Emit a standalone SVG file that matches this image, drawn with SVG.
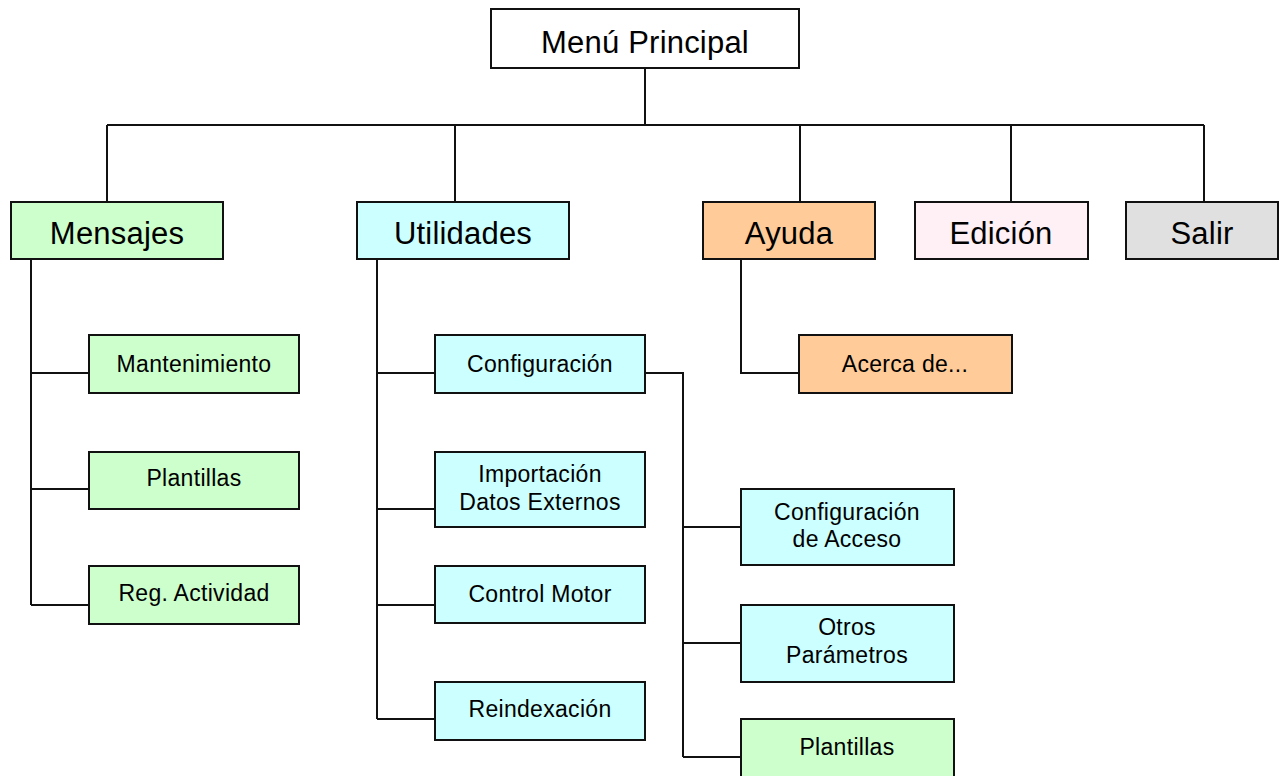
<svg xmlns="http://www.w3.org/2000/svg" width="1279" height="776" viewBox="0 0 1279 776">
<style>
rect{stroke:#111;stroke-width:2}
.w{fill:#fff}.g{fill:#ccffcc}.c{fill:#ccffff}.o{fill:#ffcc99}.p{fill:#fff0f6}.s{fill:#e0e0e0}
text{font-family:"Liberation Sans",Arial,sans-serif;fill:#000;text-anchor:middle}
.L{font-size:31px;letter-spacing:0.2px}
.S{font-size:23px;letter-spacing:0.3px}
#connectors path{fill:none;stroke:#111;stroke-width:2}
</style>
<rect width="1279" height="776" fill="#fff" style="stroke:none"/>
<g id="connectors">
<path d="M645 68V125M107 125H1204M107 125V202M455 125V202M800 125V202M1011 125V202M1204 125V202"/>
<path d="M31 259V605M31 373H89M31 489H89M31 605H89"/>
<path d="M377 259V719M377 373H435M377 509H435M377 605H435M377 719H435"/>
<path d="M645 373H683V757M683 527H741M683 643H741M683 757H741"/>
<path d="M741 259V373H799"/>
</g>
<g id="menu-principal"><rect class="w" x="491" y="9" width="308" height="59"/><text class="L" x="645" y="53">Menú Principal</text></g>
<g id="mensajes"><rect class="g" x="11" y="202" width="212" height="57"/><text class="L" x="117" y="244">Mensajes</text></g>
<g id="utilidades"><rect class="c" x="357" y="202" width="212" height="57"/><text class="L" x="463" y="244">Utilidades</text></g>
<g id="ayuda"><rect class="o" x="703" y="202" width="172" height="57"/><text class="L" x="789" y="244">Ayuda</text></g>
<g id="edicion"><rect class="p" x="915" y="202" width="173" height="57"/><text class="L" x="1001" y="244">Edición</text></g>
<g id="salir"><rect class="s" x="1126" y="202" width="152" height="57"/><text class="L" x="1202" y="244">Salir</text></g>
<g id="mantenimiento"><rect class="g" x="89" y="335" width="210" height="58"/><text class="S" x="194" y="372">Mantenimiento</text></g>
<g id="plantillas-1"><rect class="g" x="89" y="452" width="210" height="57"/><text class="S" x="194" y="486">Plantillas</text></g>
<g id="reg-actividad"><rect class="g" x="89" y="566" width="210" height="58"/><text class="S" x="194" y="601">Reg. Actividad</text></g>
<g id="configuracion"><rect class="c" x="435" y="335" width="210" height="58"/><text class="S" x="540" y="372">Configuración</text></g>
<g id="importacion"><rect class="c" x="435" y="452" width="210" height="75"/><text class="S" x="540" y="482">Importación</text><text class="S" x="540" y="510">Datos Externos</text></g>
<g id="control-motor"><rect class="c" x="435" y="566" width="210" height="57"/><text class="S" x="540" y="602">Control Motor</text></g>
<g id="reindexacion"><rect class="c" x="435" y="682" width="210" height="58"/><text class="S" x="540" y="717">Reindexación</text></g>
<g id="acerca-de"><rect class="o" x="799" y="335" width="213" height="58"/><text class="S" x="905" y="372">Acerca de...</text></g>
<g id="config-acceso"><rect class="c" x="741" y="489" width="213" height="76"/><text class="S" x="847" y="520">Configuración</text><text class="S" x="847" y="547">de Acceso</text></g>
<g id="otros-parametros"><rect class="c" x="741" y="605" width="213" height="77"/><text class="S" x="847" y="635">Otros</text><text class="S" x="847" y="663">Parámetros</text></g>
<g id="plantillas-2"><rect class="g" x="741" y="719" width="213" height="70"/><text class="S" x="847" y="755">Plantillas</text></g>
</svg>
